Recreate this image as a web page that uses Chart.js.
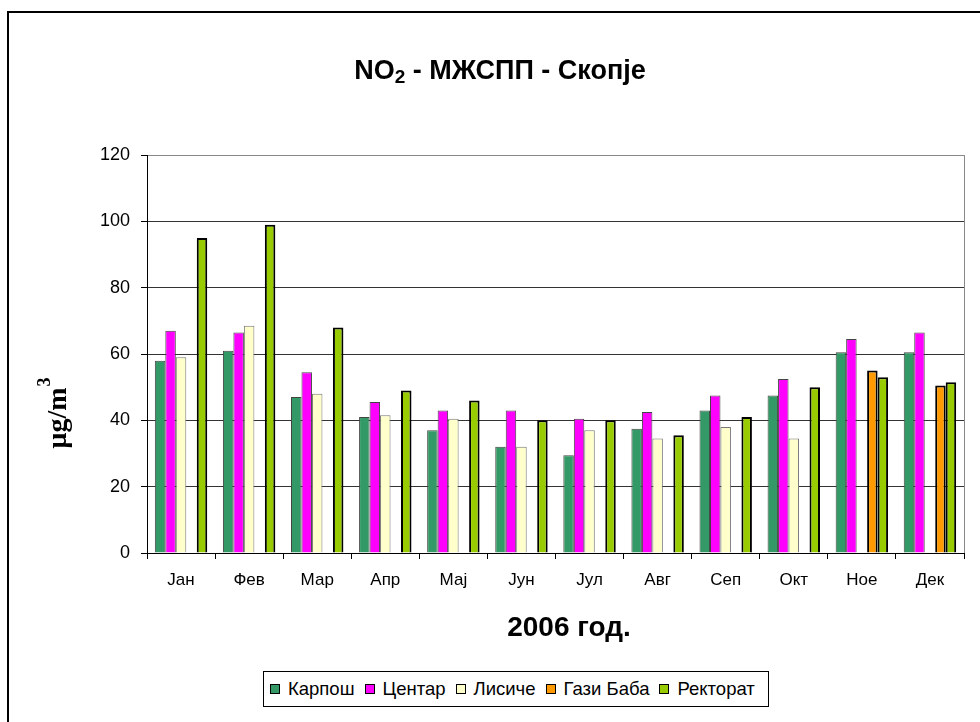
<!DOCTYPE html>
<html>
<head>
<meta charset="utf-8">
<script src="https://cdn.jsdelivr.net/npm/chart.js@4/dist/chart.umd.min.js"></script>
<style>
  html, body { margin: 0; padding: 0; background: #fff; overflow: hidden; }
  #wrap { position: relative; width: 980px; height: 722px; overflow: hidden; }
  #frame { position: absolute; left: 7px; top: 11px; width: 1100px; height: 900px; border: 2px solid #000; box-sizing: border-box; }
  #c { position: absolute; left: 0; top: 0; }
  #legend { position: absolute; left: 263px; top: 671px; width: 506px; height: 36px; box-sizing: border-box;
            border: 1px solid #000; background: #fff; display: flex; align-items: center; justify-content: flex-start;
            padding-left: 6px; white-space: nowrap; overflow: hidden;
            font-family: "Liberation Sans", Arial, sans-serif; font-size: 18.5px; color: #000; }
  .li { display: flex; align-items: center; margin-right: 10px; flex-shrink: 0; white-space: nowrap; }
  .sw { width: 10px; height: 10px; box-sizing: border-box; border: 1px solid #000; margin-right: 8px; flex-shrink: 0; }
</style>
</head>
<body>
<div id="wrap">
  <div id="frame"></div>
  <canvas id="c" width="980" height="722"></canvas>
  <div id="legend"></div>
</div>
<script>
const months = ['Јан','Фев','Мар','Апр','Мај','Јун','Јул','Авг','Сеп','Окт','Ное','Дек'];
const seriesNames = ['Карпош','Центар','Лисиче','Гази Баба','Ректорат'];
const karpos   = [58, 61, 47, 41, 37, 32, 29.5, 37.5, 43, 47.5, 60.5, 60.5];
const centar   = [67, 66.5, 54.5, 45.5, 43, 43, 40.5, 42.5, 47.5, 52.5, 64.5, 66.5];
const lisice   = [59, 68.5, 48, 41.5, 40.5, 32, 37, 34.5, 38, 34.5, null, null];
const gaziBaba = [null, null, null, null, null, null, null, null, null, null, 55, 50.5];
const rektorat = [95, 99, 68, 49, 46, 40, 40, 35.5, 41, 50, 53, 51.5];
const yTicks = [0, 20, 40, 60, 80, 100, 120];
const titleParts = ['NO', '2', ' - МЖСПП - Скопје'];
const xTitleText = '2006 год.';

const fills = ['#339966', '#FF00FF', '#FFFFCC', '#FF9900', '#99CC00'];
const borders = ['#444', '#444', '#777', '#000', '#000'];
const bw = [1, 1, 1, 2, 2];
const values = [karpos, centar, lisice, gaziBaba, rektorat];

const datasets = values.map((v, i) => ({
  label: seriesNames[i],
  data: v,
  backgroundColor: fills[i],
  borderColor: borders[i],
  borderWidth: bw[i],
  categoryPercentage: 0.77,
  barPercentage: 1.0
}));

const SANS = '"Liberation Sans", Arial, sans-serif';
const SERIF = '"Liberation Serif", "Times New Roman", serif';

const textPlugin = {
  id: 'extras',
  afterDraw(chart) {
    const ctx = chart.ctx;
    const a = chart.chartArea;
    ctx.save();
    // right border of plot area
    ctx.strokeStyle = '#888';
    ctx.lineWidth = 1;
    ctx.beginPath();
    ctx.moveTo(Math.round(a.right) + 0.5, a.top);
    ctx.lineTo(Math.round(a.right) + 0.5, a.bottom);
    ctx.stroke();

    ctx.fillStyle = '#000';
    // main title with subscript
    const big = 'bold 27px ' + SANS, small = 'bold 19px ' + SANS;
    ctx.font = big; const wa = ctx.measureText(titleParts[0]).width;
    ctx.font = small; const wb = ctx.measureText(titleParts[1]).width;
    ctx.font = big; const wc = ctx.measureText(titleParts[2]).width;
    let x = 500 - (wa + wb + wc) / 2;
    const by = 79;
    ctx.textAlign = 'left';
    ctx.textBaseline = 'alphabetic';
    ctx.font = big; ctx.fillText(titleParts[0], x, by); x += wa;
    ctx.font = small; ctx.fillText(titleParts[1], x, by + 4); x += wb;
    ctx.font = big; ctx.fillText(titleParts[2], x, by);

    // x axis title
    ctx.font = 'bold 28px ' + SANS;
    ctx.textAlign = 'center';
    ctx.textBaseline = 'middle';
    ctx.fillText(xTitleText, 569, 628);

    // y axis title
    ctx.translate(57, 413);
    ctx.rotate(-Math.PI / 2);
    ctx.font = 'bold 28px ' + SERIF;
    const main = 'μg/m';
    const w1 = ctx.measureText(main).width;
    ctx.font = 'bold 18px ' + SERIF;
    const w2 = ctx.measureText('3').width;
    const total = w1 + w2 + 1;
    ctx.textAlign = 'left';
    ctx.textBaseline = 'alphabetic';
    ctx.font = 'bold 28px ' + SERIF;
    ctx.fillText(main, -total / 2, 9);
    ctx.font = 'bold 18px ' + SERIF;
    ctx.fillText('3', -total / 2 + w1 + 1, -7);
    ctx.restore();
  }
};

new Chart(document.getElementById('c'), {
  type: 'bar',
  data: { labels: months, datasets },
  plugins: [textPlugin],
  options: {
    responsive: false,
    animation: false,
    devicePixelRatio: 1,
    layout: { padding: { left: 36, right: 16, top: 155, bottom: 109 } },
    plugins: {
      legend: { display: false },
      tooltip: { enabled: false },
      title: { display: false }
    },
    scales: {
      x: {
        afterFit(s) { s.height = 60; },
        grid: { offset: true, drawOnChartArea: false, drawTicks: true, tickLength: 6, color: '#000', tickColor: '#000' },
        border: { color: '#000', width: 1 },
        ticks: { color: '#000', padding: 11, font: { family: SANS, size: 17 } }
      },
      y: {
        min: 0, max: 120,
        afterFit(s) { s.width = 111; },
        afterBuildTicks(s) { s.ticks = yTicks.map(v => ({ value: v })); },
        grid: {
          color: (c) => (c.tick && c.tick.value === 120) ? '#888' : '#333',
          tickColor: '#000', tickLength: 6, drawTicks: true
        },
        border: { color: '#000', width: 1 },
        ticks: { color: '#000', padding: 11, font: { family: SANS, size: 18 } }
      }
    }
  }
});

// HTML legend built from the series arrays
const lg = document.getElementById('legend');
seriesNames.forEach((n, i) => {
  const item = document.createElement('div');
  item.className = 'li';
  const sw = document.createElement('span');
  sw.className = 'sw';
  sw.style.background = fills[i];
  const t = document.createElement('span');
  t.textContent = n;
  item.appendChild(sw);
  item.appendChild(t);
  lg.appendChild(item);
});
</script>
</body>
</html>
